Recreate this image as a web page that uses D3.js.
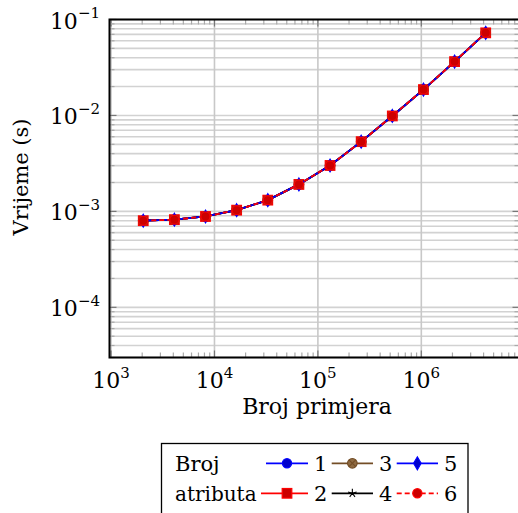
<!DOCTYPE html>
<html><head><meta charset="utf-8">
<script src="https://cdn.jsdelivr.net/npm/d3@7"></script>
<style>body{margin:0;background:#fff} svg{display:block}</style>
</head><body><svg id="c" width="518" height="513"></svg>
<script>
// ---- data ----
const sampleSizes = [2048,4096,8192,16384,32768,65536,131072,262144,524288,1048576,2097152,4194304];
const times1 = [8.0e-4,8.2e-4,8.85e-4,1.03e-3,1.31e-3,1.91e-3,3.01e-3,5.33e-3,9.88e-3,1.86e-2,3.64e-2,7.26e-2];
const times2 = [8.0e-4,8.2e-4,8.85e-4,1.03e-3,1.31e-3,1.91e-3,3.01e-3,5.33e-3,9.88e-3,1.86e-2,3.64e-2,7.26e-2];
const times3 = [8.0e-4,8.2e-4,8.85e-4,1.03e-3,1.31e-3,1.91e-3,3.01e-3,5.33e-3,9.88e-3,1.86e-2,3.64e-2,7.26e-2];
const times4 = [8.0e-4,8.2e-4,8.85e-4,1.03e-3,1.31e-3,1.91e-3,3.01e-3,5.33e-3,9.88e-3,1.86e-2,3.64e-2,7.26e-2];
const times5 = [8.0e-4,8.2e-4,8.85e-4,1.03e-3,1.31e-3,1.91e-3,3.01e-3,5.33e-3,9.88e-3,1.86e-2,3.64e-2,7.26e-2];
const times6 = [8.0e-4,8.2e-4,8.85e-4,1.03e-3,1.31e-3,1.91e-3,3.01e-3,5.33e-3,9.88e-3,1.86e-2,3.64e-2,7.26e-2];
const seriesNames = ["1","2","3","4","5","6"];
const xTickExps = [3,4,5,6];
const yTickExps = [-1,-2,-3,-4];
const xDomain = [966, 8.9e6];
const yDomain = [3e-5, 0.1];
const xLabel = "Broj primjera";
const yLabel = "Vrijeme (s)";
const legendTitle = ["Broj","atributa"];

// ---- styles ----
const styles = [
  {color:"#0000ff", fill:"#0000cc", dash:null, mark:"circle"},
  {color:"#ff0000", fill:"#cc0000", dash:null, mark:"square"},
  {color:"#734d26", fill:"#8e6a42", dash:null, mark:"otimes"},
  {color:"#000000", fill:"#000000", dash:null, mark:"star"},
  {color:"#0000ff", fill:"#0000cc", dash:null, mark:"diamond"},
  {color:"#ff0000", fill:"#cc0000", dash:"5,3", mark:"circle"}
];
const seriesData = [times1,times2,times3,times4,times5,times6];
const FONT = "'DejaVu Serif', serif";

const svg = d3.select("#c");
const L = 109.5, R = 519.5, T = 19.5, B = 357.5;
const x = d3.scaleLog().domain(xDomain).range([L, R]);
const y = d3.scaleLog().domain(yDomain).range([B, T]);

// grid
const yAll = y.ticks();
const xAll = x.ticks();
const xMajor = xTickExps.map(e => Math.pow(10, e));
const yMajor = yTickExps.map(e => Math.pow(10, e));
const g = svg.append("g");
g.selectAll("line.hg").data(yAll).enter().append("line")
  .attr("x1", L).attr("x2", R).attr("y1", d => y(d)).attr("y2", d => y(d))
  .attr("stroke", "#d2d2d2").attr("stroke-width", 1.6);
g.selectAll("line.vg").data(xMajor).enter().append("line")
  .attr("y1", T).attr("y2", B).attr("x1", d => x(d)).attr("x2", d => x(d))
  .attr("stroke", "#c8c8c8").attr("stroke-width", 1.6);

// ticks
const isMajorX = d => xMajor.some(m => Math.abs(m - d) / m < 1e-6);
const isMajorY = d => yMajor.some(m => Math.abs(m - d) / m < 1e-6);
const xt = xAll.filter(d => x(d) >= L && x(d) <= R);
[B, T].forEach((yy, i) => {
  g.selectAll(null).data(xt).enter().append("line")
    .attr("x1", d => x(d)).attr("x2", d => x(d))
    .attr("y1", yy).attr("y2", d => yy + (i === 0 ? -1 : 1) * (isMajorX(d) ? 7 : 5))
    .attr("stroke", d => isMajorX(d) ? "#777" : "#aaa").attr("stroke-width", 1.2);
});
[L, R].forEach((xx, i) => {
  g.selectAll(null).data(yAll).enter().append("line")
    .attr("y1", d => y(d)).attr("y2", d => y(d))
    .attr("x1", xx).attr("x2", d => xx + (i === 0 ? 1 : -1) * (isMajorY(d) ? 7 : 5))
    .attr("stroke", d => isMajorY(d) ? "#777" : "#aaa").attr("stroke-width", 1.2);
});

// marks
function drawMark(sel, type, cx, cy, st) {
  if (type === "circle") {
    sel.append("circle").attr("cx", cx).attr("cy", cy).attr("r", 4.6)
      .attr("fill", st.fill).attr("stroke", st.color).attr("stroke-width", 1.2);
  } else if (type === "square") {
    sel.append("rect").attr("x", cx - 4.8).attr("y", cy - 4.8).attr("width", 9.6).attr("height", 9.6)
      .attr("fill", st.fill).attr("stroke", st.color).attr("stroke-width", 1.2);
  } else if (type === "otimes") {
    sel.append("circle").attr("cx", cx).attr("cy", cy).attr("r", 4.8)
      .attr("fill", st.fill).attr("stroke", st.color).attr("stroke-width", 1.2);
    const k = 3.4;
    sel.append("path").attr("d", `M${cx-k},${cy-k}L${cx+k},${cy+k}M${cx-k},${cy+k}L${cx+k},${cy-k}`)
      .attr("stroke", st.color).attr("stroke-width", 1.1);
  } else if (type === "star") {
    let d = "";
    for (let i = 0; i < 5; i++) {
      const a = -Math.PI / 2 + i * 2 * Math.PI / 5;
      d += `M${cx},${cy}L${cx + 4.5 * Math.cos(a)},${cy + 4.5 * Math.sin(a)}`;
    }
    sel.append("path").attr("d", d).attr("stroke", st.color).attr("stroke-width", 1.1).attr("fill", "none");
  } else if (type === "diamond") {
    sel.append("path").attr("d", `M${cx},${cy-6.5}L${cx+3.8},${cy}L${cx},${cy+6.5}L${cx-3.8},${cy}Z`)
      .attr("fill", st.fill).attr("stroke", st.color).attr("stroke-width", 1.1);
  }
}

// series
const line = d3.line().x(d => x(d[0])).y(d => y(d[1]));
seriesData.forEach((vals, i) => {
  const st = styles[i];
  const pts = sampleSizes.map((s, j) => [s, vals[j]]);
  const sg = svg.append("g");
  sg.append("path").attr("d", line(pts)).attr("fill", "none")
    .attr("stroke", st.color).attr("stroke-width", 1.8)
    .attr("stroke-dasharray", st.dash);
  pts.forEach(p => drawMark(sg, st.mark, x(p[0]), y(p[1]), st));
});

// axis box
svg.append("rect").attr("x", L).attr("y", T).attr("width", R - L).attr("height", B - T)
  .attr("fill", "none").attr("stroke", "#000").attr("stroke-width", 2);

// tick labels
xTickExps.forEach(e => {
  const t = svg.append("text").attr("x", x(Math.pow(10, e))).attr("y", 388)
    .attr("text-anchor", "middle").attr("font-family", FONT).attr("font-size", 22);
  t.append("tspan").text("10");
  t.append("tspan").attr("dy", -10).attr("font-size", 15).text(String(e));
});
yTickExps.forEach(e => {
  const t = svg.append("text").attr("x", 100).attr("y", y(Math.pow(10, e)) + 9)
    .attr("text-anchor", "end").attr("font-family", FONT).attr("font-size", 22);
  t.append("tspan").text("10");
  t.append("tspan").attr("dy", -10.5).attr("font-size", 15).text("\u2212" + String(-e));
});

// axis labels
svg.append("text").attr("x", 317).attr("y", 414).attr("text-anchor", "middle")
  .attr("font-family", FONT).attr("font-size", 22).text(xLabel);
svg.append("text").attr("transform", "translate(28,177) rotate(-90)").attr("text-anchor", "middle")
  .attr("font-family", FONT).attr("font-size", 21).text(yLabel);

// legend
const lg = svg.append("g");
lg.append("rect").attr("x", 161.5).attr("y", 443.5).attr("width", 306.5).attr("height", 80)
  .attr("fill", "#fff").attr("stroke", "#000").attr("stroke-width", 1.3);
const rowY = [463.3, 493.3];
lg.append("text").attr("x", 175).attr("y", 471).attr("font-family", FONT).attr("font-size", 21).text(legendTitle[0]);
lg.append("text").attr("x", 175).attr("y", 501).attr("font-family", FONT).attr("font-size", 20).text(legendTitle[1]);
const colX = [[266, 308], [331.7, 373], [396.7, 438]];
seriesNames.forEach((name, i) => {
  const col = Math.floor(i / 2), row = i % 2;
  const st = styles[i];
  let [x1, x2] = colX[col];
  if (col === 0 && row === 1) x1 = 261;
  const cy = rowY[row];
  lg.append("line").attr("x1", x1).attr("x2", x2).attr("y1", cy).attr("y2", cy)
    .attr("stroke", st.color).attr("stroke-width", 1.8).attr("stroke-dasharray", st.dash);
  drawMark(lg, st.mark, (colX[col][0] + colX[col][1]) / 2, cy, st);
  lg.append("text").attr("x", x2 + 6).attr("y", cy + 7.5).attr("font-family", FONT).attr("font-size", 21).text(name);
});
</script></body></html>
